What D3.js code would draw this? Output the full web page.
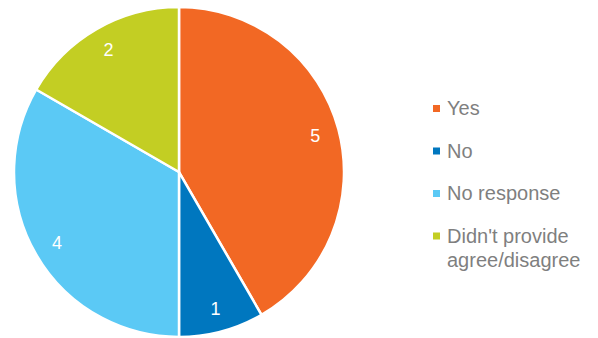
<!DOCTYPE html>
<html>
<head>
<meta charset="utf-8">
<script src="https://cdn.jsdelivr.net/npm/d3@7"></script>
<style>
  html, body { margin: 0; padding: 0; background: #fff; }
  svg { display: block; }
</style>
</head>
<body>
<svg id="chart" width="598" height="338"></svg>
<script>
// Response categories and their counts
const categories = ["Yes", "No", "No response", "Didn't provide agree/disagree"];
const counts = [5, 1, 4, 2];
const legendLines = [["Yes"], ["No"], ["No response"], ["Didn't provide", "agree/disagree"]];
const colors = ["#F26824", "#0077BF", "#5BC9F5", "#C3CE23"];

const svg = d3.select("#chart");
const cx = 179, cy = 172, radius = 165;

const color = d3.scaleOrdinal().domain(categories).range(colors);

const pie = d3.pie().sort(null).value(d => d.value);
const data = categories.map((c, i) => ({ name: c, value: counts[i] }));
const arcs = pie(data);

const arc = d3.arc().innerRadius(0).outerRadius(radius);
const labelArc = d3.arc().innerRadius(141).outerRadius(141);

const g = svg.append("g").attr("transform", `translate(${cx},${cy})`);

g.selectAll("path.slice")
  .data(arcs)
  .join("path")
  .attr("class", "slice")
  .attr("d", arc)
  .attr("fill", d => color(d.data.name))
  .attr("stroke", "#fff")
  .attr("stroke-width", 2.5)
  .attr("stroke-linejoin", "round");

g.selectAll("text.value")
  .data(arcs)
  .join("text")
  .attr("class", "value")
  .attr("transform", d => `translate(${labelArc.centroid(d)})`)
  .attr("text-anchor", "middle")
  .attr("dy", "0.36em")
  .attr("fill", "#fff")
  .style("font-family", "'Liberation Sans', Arial, sans-serif")
  .style("font-size", "18px")
  .text(d => d.data.value);

// Legend
const legendX = 433, legendY0 = 115, legendStep = 42.5, lineH = 24.5;
const legend = svg.append("g")
  .style("font-family", "'Liberation Sans', Arial, sans-serif")
  .style("font-size", "20px");

categories.forEach((c, i) => {
  const y = legendY0 + i * legendStep;
  legend.append("rect")
    .attr("x", legendX)
    .attr("y", y - 10)
    .attr("width", 7)
    .attr("height", 7)
    .attr("fill", color(c));
  const t = legend.append("text")
    .attr("x", legendX + 14)
    .attr("y", y)
    .attr("fill", "#7F7F7F");
  legendLines[i].forEach((line, j) => {
    t.append("tspan")
      .attr("x", legendX + 14)
      .attr("y", y + j * lineH)
      .text(line);
  });
});
</script>
</body>
</html>
